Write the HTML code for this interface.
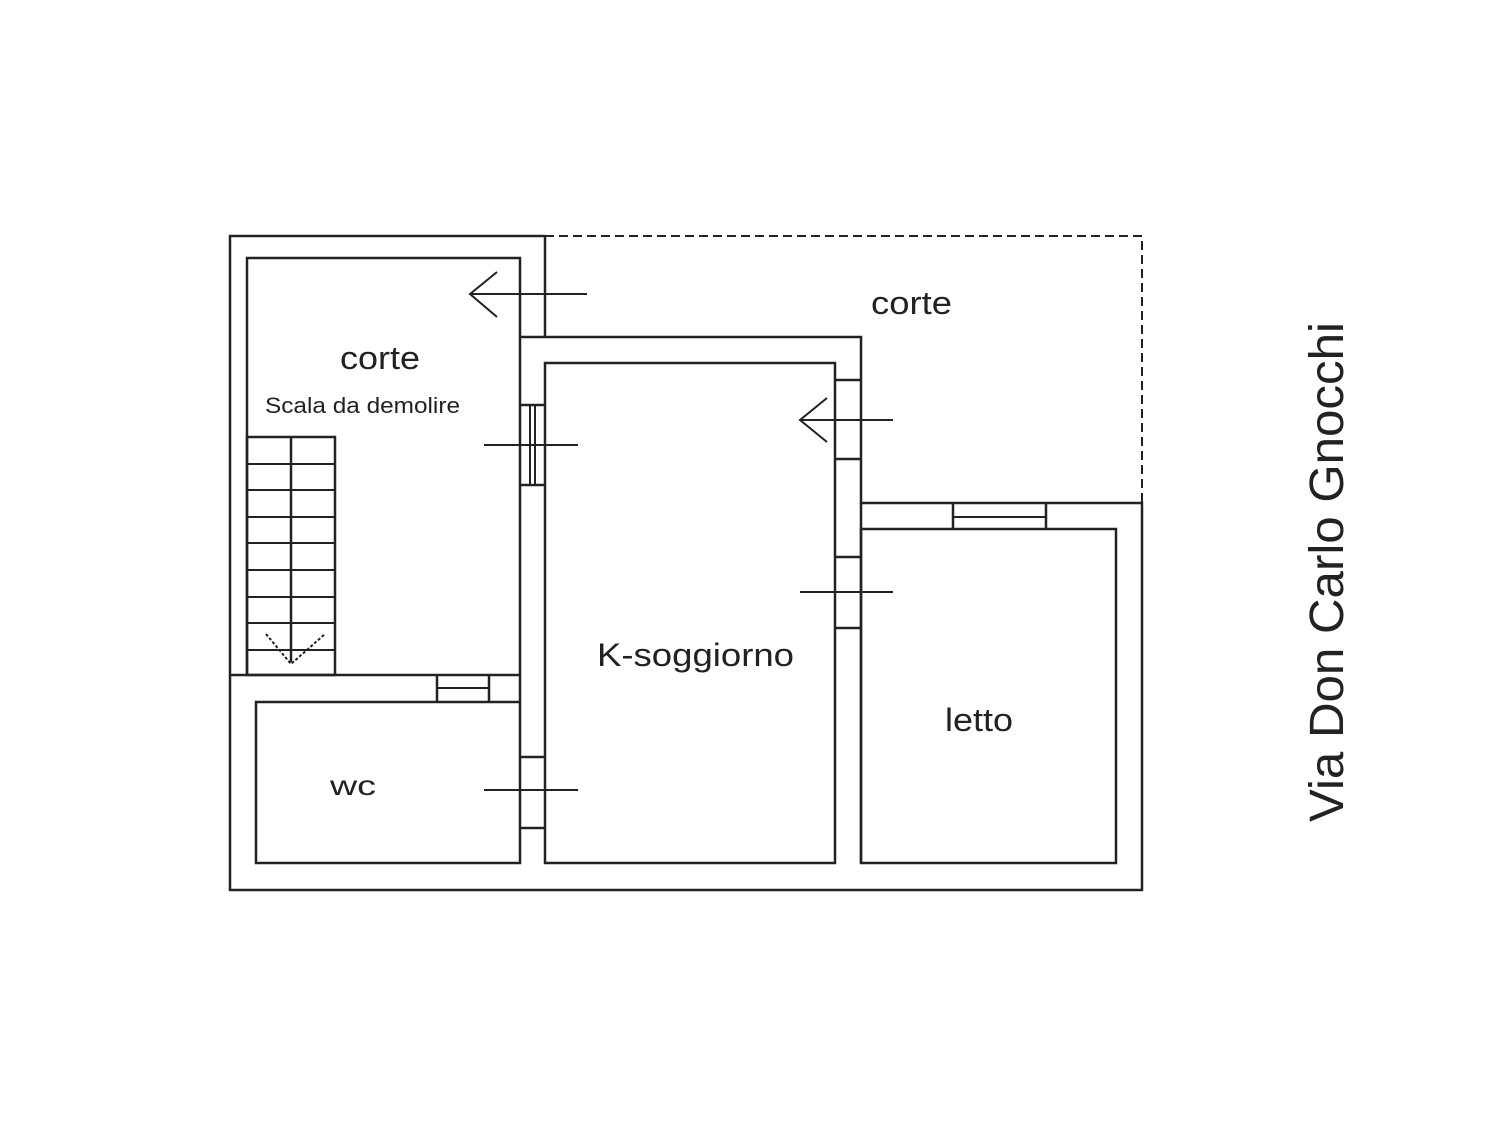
<!DOCTYPE html>
<html><head><meta charset="utf-8"><style>html,body{margin:0;padding:0;background:#fff}svg{display:block}</style></head>
<body>
<svg width="1500" height="1125" viewBox="0 0 1500 1125" xmlns="http://www.w3.org/2000/svg" font-family="Liberation Sans, sans-serif" fill="#222">
<g stroke="#222" stroke-width="2.5" fill="none">
<polyline points="545,236 230,236 230,890 1142,890 1142,503 861,503 861,337 520,337"/>
<line x1="545" y1="236" x2="545" y2="337"/>
<polyline points="545,236 1142,236 1142,503" stroke-dasharray="9,5" stroke-width="2"/>
<polyline points="520,337 520,258 247,258 247,675"/>
<line x1="520" y1="337" x2="520" y2="675"/>
<line x1="230" y1="675" x2="520" y2="675"/>
<rect x="247" y="437" width="88" height="238"/>
<line x1="291" y1="437" x2="291" y2="662"/>
<g stroke-width="2"><line x1="247" y1="464" x2="335" y2="464"/><line x1="247" y1="490" x2="335" y2="490"/><line x1="247" y1="517" x2="335" y2="517"/><line x1="247" y1="543" x2="335" y2="543"/><line x1="247" y1="570" x2="335" y2="570"/><line x1="247" y1="597" x2="335" y2="597"/><line x1="247" y1="623" x2="335" y2="623"/><line x1="247" y1="650" x2="335" y2="650"/></g>
<polyline points="266,634 291,664 325,634" stroke-dasharray="3,2" stroke-width="2"/>
<line x1="470" y1="294" x2="587" y2="294" stroke-width="2"/>
<polyline points="497,272 470,294 497,317" stroke-width="2"/>
<line x1="520" y1="405" x2="545" y2="405"/><line x1="520" y1="485" x2="545" y2="485"/>
<line x1="530" y1="405" x2="530" y2="485" stroke-width="2"/><line x1="535" y1="405" x2="535" y2="485" stroke-width="2"/>
<line x1="484" y1="445" x2="578" y2="445" stroke-width="2"/>
<rect x="256" y="702" width="264" height="161"/>
<line x1="520" y1="675" x2="520" y2="702"/>
<line x1="437" y1="675" x2="437" y2="702"/><line x1="489" y1="675" x2="489" y2="702"/><line x1="437" y1="688" x2="489" y2="688" stroke-width="2"/>
<line x1="520" y1="757" x2="545" y2="757"/><line x1="520" y1="828" x2="545" y2="828"/>
<line x1="484" y1="790" x2="578" y2="790" stroke-width="2"/>
<rect x="545" y="363" width="290" height="500"/>
<line x1="861" y1="503" x2="861" y2="863"/>
<line x1="835" y1="380" x2="861" y2="380"/><line x1="835" y1="459" x2="861" y2="459"/>
<line x1="800" y1="420" x2="893" y2="420" stroke-width="2"/>
<polyline points="827,398 800,420 827,442" stroke-width="2"/>
<line x1="835" y1="557" x2="861" y2="557"/><line x1="835" y1="628" x2="861" y2="628"/>
<line x1="800" y1="592" x2="893" y2="592" stroke-width="2"/>
<rect x="861" y="529" width="255" height="334"/>
<line x1="953" y1="503" x2="953" y2="529"/><line x1="1046" y1="503" x2="1046" y2="529"/>
<line x1="953" y1="517" x2="1046" y2="517" stroke-width="2"/>
</g>
<g font-size="32">
<text x="340" y="369" textLength="80" lengthAdjust="spacingAndGlyphs">corte</text>
<text x="871" y="314" textLength="81" lengthAdjust="spacingAndGlyphs">corte</text>
<text x="597" y="666" textLength="197" lengthAdjust="spacingAndGlyphs">K-soggiorno</text>
<text x="945" y="731" textLength="68" lengthAdjust="spacingAndGlyphs">letto</text>
</g>
<text x="330" y="795" font-size="28" textLength="46" lengthAdjust="spacingAndGlyphs">wc</text>
<text x="265" y="413" font-size="22" textLength="195" lengthAdjust="spacingAndGlyphs">Scala da demolire</text>
<text transform="translate(1343,822) rotate(-90)" font-size="48" textLength="500" lengthAdjust="spacingAndGlyphs">Via Don Carlo Gnocchi</text>
</svg>
</body></html>
